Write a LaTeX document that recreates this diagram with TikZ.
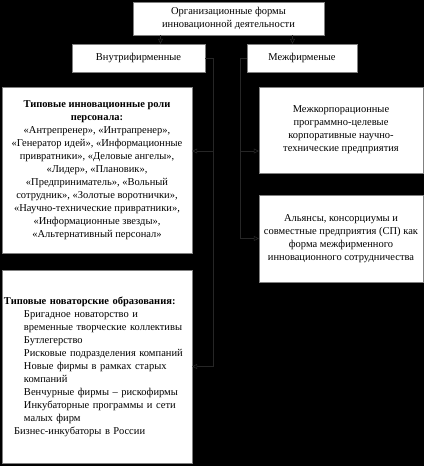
\documentclass[tikz,border=0pt]{standalone}
\usepackage{fontspec}
\setmainfont{Liberation Serif}
\usetikzlibrary{positioning,arrows.meta}

\begin{document}
\begin{tikzpicture}[
    x=1pt, y=-1pt,
    every node/.style={font=\fontsize{10.5}{13}\selectfont},
    block/.style={
        draw=gray,
        fill=white,
        align=center,
        inner sep=1pt
    },
    arrow/.style={-{Triangle[open,length=5pt,width=5pt]}, draw=black!85!white, line width=0.6pt}
]
% background
\useasboundingbox (0,0) rectangle (424,466);
\fill[black] (0,0) rectangle (424,466);

% top
\node[block, minimum width=191pt, minimum height=33pt] (forms) at (228.5,18.5)
    {Организационные формы\\инновационной деятельности};

% row 1
\node[block, minimum width=133pt, minimum height=28pt] (inner) at (138.5,58)
    {Внутрифирменные};
\node[block, minimum width=110pt, minimum height=28pt] (inter) at (302,58)
    {Межфирменые};

% left column
\node[block, minimum width=190pt, minimum height=166pt] (roles) at (97,170)
    {\textbf{Типовые инновационные роли}\\\textbf{персонала:}\\
     «Антрепренер», «Интрапренер»,\\«Генератор идей», «Информационные\\
     привратники», «Деловые ангелы»,\\«Лидер», «Плановик»,\\
     «Предприниматель», «Вольный\\сотрудник», «Золотые воротнички»,\\
     «Научно-технические привратники»,\\«Информационные звезды»,\\
     «Альтернативный персонал»};

\node[block, align=left, minimum width=190pt, minimum height=193pt, text width=186pt] (novel) at (97,366.5)
    {\textbf{Типовые новаторские образования:}\\
     \hspace*{20pt}Бригадное новаторство и\\
     \hspace*{20pt}временные творческие коллективы\\
     \hspace*{20pt}Бутлегерство\\
     \hspace*{20pt}Рисковые подразделения компаний\\
     \hspace*{20pt}Новые фирмы в рамках старых\\
     \hspace*{20pt}компаний\\
     \hspace*{20pt}Венчурные фирмы – рискофирмы\\
     \hspace*{20pt}Инкубаторные программы и сети\\
     \hspace*{20pt}малых фирм\\
     \hspace*{10pt}Бизнес-инкубаторы в России};

% right column
\node[block, minimum width=164pt, minimum height=86pt] (corp) at (341,130)
    {Межкорпорационные\\программно-целевые\\корпоративные научно-\\технические предприятия};

\node[block, minimum width=164pt, minimum height=87pt] (joint) at (341,238.5)
    {Альянсы, консорциумы и\\совместные предприятия (СП) как\\форма межфирменного\\инновационного сотрудничества};

% arrows from top
\draw[arrow] ([xshift=-68pt]forms.south) coordinate (t1) -- (t1 |- inner.north);
\draw[arrow] ([xshift=64pt]forms.south) coordinate (t2) -- (t2 |- inter.north);

% left branch
\draw[arrow] (inner.east) -- ++(8,0) coordinate (b1) |- (novel.east);
\draw[arrow] (b1) |- ([yshift=19pt]roles.east);

% right branch
\draw[arrow] (inter.west) -- ++(-7,0) coordinate (b2) |- (joint.west);
\draw[arrow] (b2) |- ([yshift=-21pt]corp.west);
\end{tikzpicture}
\end{document}
